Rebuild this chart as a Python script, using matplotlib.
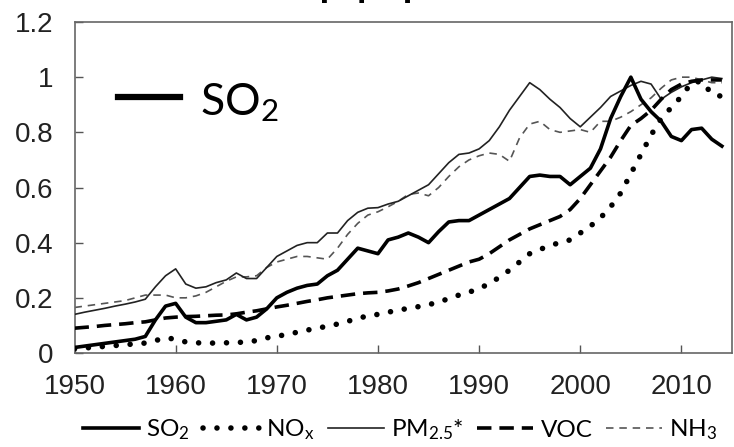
import matplotlib
matplotlib.use("Agg")
import matplotlib.pyplot as plt
from matplotlib.lines import Line2D
import numpy as np

plt.rcParams['mathtext.default'] = 'regular'

years = list(range(1950, 2015))

so2 = [0.02, 0.025, 0.03, 0.035, 0.04, 0.045, 0.05, 0.06, 0.12, 0.17,
       0.18, 0.13, 0.11, 0.11, 0.115, 0.12, 0.14, 0.12, 0.13, 0.16,
       0.20, 0.22, 0.235, 0.245, 0.25, 0.28, 0.30, 0.34, 0.38, 0.37,
       0.36, 0.41, 0.42, 0.435, 0.42, 0.40, 0.44, 0.475, 0.48, 0.48,
       0.50, 0.52, 0.54, 0.56, 0.60, 0.64, 0.645, 0.64, 0.64, 0.61,
       0.64, 0.67, 0.74, 0.85, 0.93, 1.0, 0.92, 0.875, 0.84, 0.785,
       0.77, 0.81, 0.815, 0.775, 0.75]

nox = [0.015, 0.018, 0.021, 0.024, 0.027, 0.03, 0.033, 0.036, 0.045, 0.055,
       0.05, 0.04, 0.037, 0.036, 0.036, 0.037, 0.038, 0.04, 0.045, 0.055,
       0.06, 0.068, 0.075, 0.083, 0.09, 0.097, 0.105, 0.115, 0.125, 0.135,
       0.14, 0.148, 0.155, 0.162, 0.168, 0.175, 0.185, 0.197, 0.21, 0.22,
       0.235, 0.25, 0.275, 0.30, 0.33, 0.36, 0.375, 0.39, 0.40, 0.41,
       0.435, 0.46, 0.49, 0.53, 0.58, 0.65, 0.72, 0.79, 0.85, 0.89,
       0.93, 0.98, 0.985, 0.94, 0.93]

pm25 = [0.14, 0.148, 0.155, 0.162, 0.17, 0.177, 0.185, 0.195, 0.24, 0.28,
        0.305, 0.25, 0.235, 0.24, 0.255, 0.265, 0.29, 0.27, 0.27, 0.31,
        0.35, 0.37, 0.39, 0.40, 0.40, 0.435, 0.435, 0.48, 0.51, 0.525,
        0.527, 0.54, 0.55, 0.57, 0.59, 0.61, 0.65, 0.69, 0.72, 0.725,
        0.74, 0.77, 0.82, 0.88, 0.93, 0.98, 0.955, 0.92, 0.89, 0.85,
        0.82, 0.855, 0.89, 0.93, 0.95, 0.97, 0.985, 0.975, 0.92, 0.945,
        0.965, 0.98, 0.99, 1.0, 0.995]

voc = [0.09, 0.093, 0.096, 0.10, 0.103, 0.106, 0.11, 0.113, 0.12, 0.127,
       0.13, 0.132, 0.133, 0.135, 0.137, 0.138, 0.142, 0.148, 0.153, 0.16,
       0.167, 0.173, 0.18, 0.187, 0.193, 0.20, 0.205, 0.21, 0.215, 0.218,
       0.22, 0.225, 0.232, 0.243, 0.255, 0.27, 0.285, 0.30, 0.315, 0.33,
       0.34, 0.36, 0.385, 0.41, 0.43, 0.45, 0.465, 0.48, 0.495, 0.52,
       0.56, 0.61, 0.66, 0.71, 0.77, 0.825, 0.85, 0.88, 0.92, 0.955,
       0.975, 0.985, 0.99, 0.99, 0.99]

nh3 = [0.165, 0.17, 0.175, 0.18, 0.185, 0.19, 0.20, 0.21, 0.21, 0.21,
       0.20, 0.20, 0.207, 0.22, 0.24, 0.26, 0.276, 0.276, 0.28, 0.31,
       0.33, 0.34, 0.35, 0.35, 0.345, 0.34, 0.38, 0.43, 0.47, 0.50,
       0.512, 0.53, 0.55, 0.575, 0.58, 0.57, 0.60, 0.64, 0.675, 0.70,
       0.715, 0.725, 0.72, 0.695, 0.78, 0.83, 0.84, 0.81, 0.80, 0.805,
       0.81, 0.80, 0.84, 0.84, 0.855, 0.875, 0.90, 0.925, 0.96, 0.99,
       1.0, 1.0, 0.99, 0.98, 0.98]

labels = ['SO$_2$', 'NO$_x$', 'PM$_{2.5}$*', 'VOC', 'NH$_3$']
yticks = [0, 0.2, 0.4, 0.6, 0.8, 1.0, 1.2]
ytick_labels = ['0', '0.2', '0.4', '0.6', '0.8', '1', '1.2']
xticks = [1950, 1960, 1970, 1980, 1990, 2000, 2010]

W, H = 734, 447
fig = plt.figure(figsize=(W / 100, H / 100), dpi=100)
ax = fig.add_axes([74.5 / W, 94 / H, (732 - 74.5) / W, (353 - 22) / H])

ax.plot(years, so2, color='black', lw=2.6, label=labels[0], zorder=5)
ax.plot(years, nox, color='black', lw=4.0, linestyle=(0, (0.01, 2.5)),
        dash_capstyle='round', label=labels[1], zorder=4)
ax.plot(years, pm25, color='#222222', lw=1.2, label=labels[2], zorder=3)
ax.plot(years, voc, color='black', lw=2.6, linestyle=(0, (4.0, 2.2)),
        label=labels[3], zorder=4)
ax.plot(years, nh3, color='#555555', lw=1.2, linestyle=(0, (4.5, 3.5)),
        label=labels[4], zorder=2)

ax.set_xlim(1950, 2015)
ax.set_ylim(0, 1.2)
ax.set_xticks(xticks)
ax.set_xticklabels([str(x) for x in xticks])
ax.set_yticks(yticks)
ax.set_yticklabels(ytick_labels)

for lab in ax.get_xticklabels() + ax.get_yticklabels():
    lab.set_fontfamily('Liberation Sans')
    lab.set_fontsize(20)
    lab.set_color('#222222')

ax.tick_params(axis='both', direction='in', length=6, width=1.0, color='#555555')
ax.tick_params(axis='x', pad=15)
ax.tick_params(axis='y', pad=15)
for s in ax.spines.values():
    s.set_color('#666666')
    s.set_linewidth(1.2)

# inset label
fig.add_artist(Line2D([118 / W, 180 / W], [1 - 97 / H, 1 - 97 / H],
                      transform=fig.transFigure, color='black', lw=4.5))
fig.text(200 / W, 1 - 115 / H, 'SO$_2$', fontsize=32, family='Lato',
         va='baseline', ha='left')

# partially cut title (cut off at the top in the reference too)
fig.text(354 / W, 1 + 2 / H, '中国', fontsize=44, family='Noto Sans CJK SC',
         ha='center', va='baseline')

leg = fig.legend(loc='center', bbox_to_anchor=(400 / W, 1 - 430 / H), ncol=5,
                 frameon=False, prop={'family': 'Lato', 'size': 17.5},
                 handlelength=2.3, handletextpad=0.3, columnspacing=0.55,
                 borderpad=0, borderaxespad=0)

fig.savefig('out.png', dpi=100)
